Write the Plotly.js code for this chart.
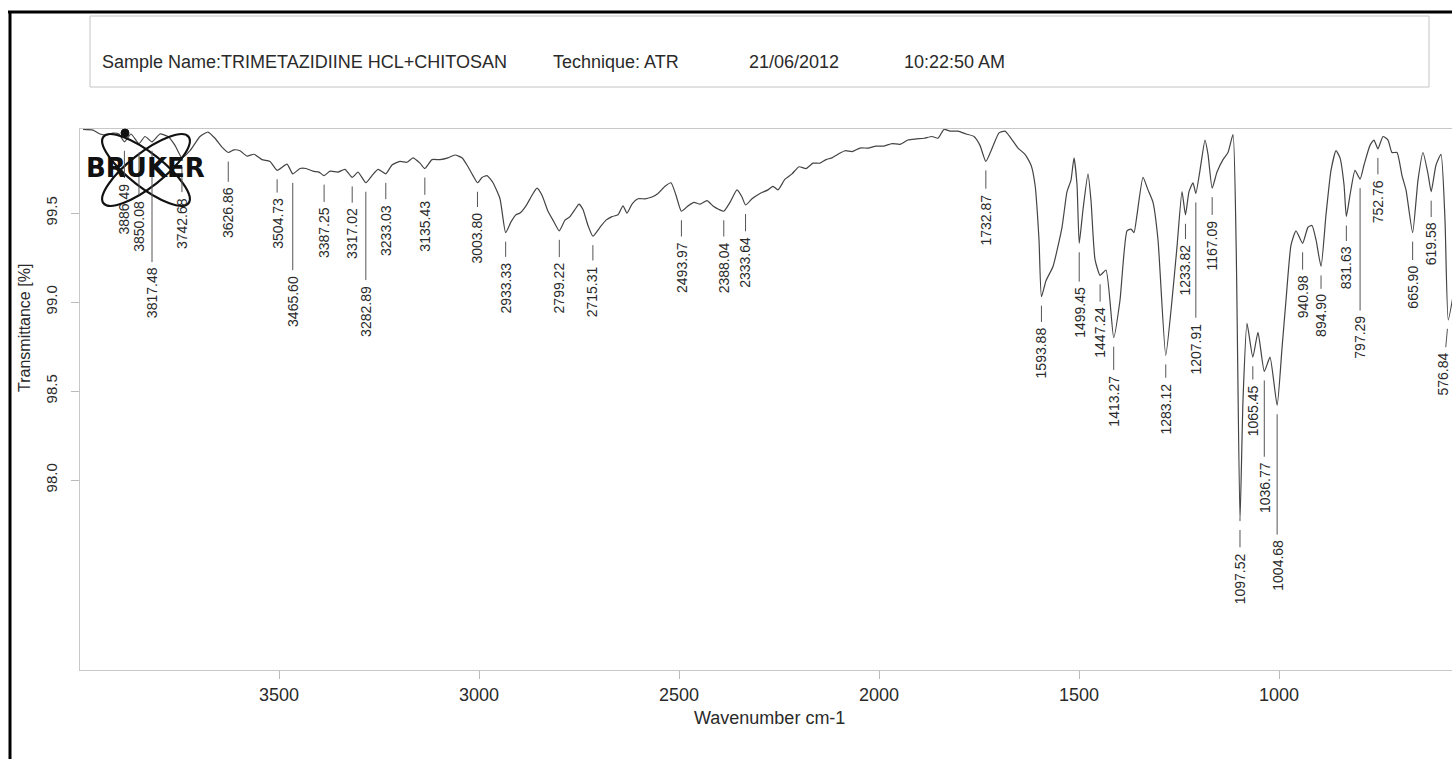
<!DOCTYPE html>
<html>
<head>
<meta charset="utf-8">
<script src="https://cdn.plot.ly/plotly-3.0.1.min.js"></script>
<style>
  html, body { margin: 0; padding: 0; background: #fff; overflow: hidden; }
  #chart { width: 1452px; height: 759px; }
</style>
</head>
<body>
<div id="chart"></div>
<script>
// ATR-FTIR spectrum, Trimetazidine HCl + chitosan

// Trace points between the labelled bands (wavenumber cm-1, transmittance %)
const traceWavenumber = [
  3990, 3965, 3947.5, 3930, 3915, 3900, 3870, 3835, 3797.5, 3777.5, 3760,
  3722.5, 3697.5, 3677.5, 3660, 3642.5, 3612.5, 3597.5, 3580, 3562.5, 3542.5, 3522.5,
  3480, 3447.5, 3432.5, 3415, 3400, 3372.5, 3352.5, 3335, 3302.5, 3267.5, 3252.5,
  3217.5, 3197.5, 3180, 3165, 3147.5, 3117.5, 3097.5, 3077.5, 3060, 3042.5, 3027.5, 3015,
  2992.5, 2980, 2965, 2947.5, 2920, 2907.5, 2897.5, 2882.5, 2867.5, 2855, 2842.5, 2827.5, 2812.5,
  2785, 2772.5, 2760, 2750, 2740, 2727.5, 2697.5, 2682.5, 2667.5, 2652.5, 2640, 2630, 2617.5,
  2602.5, 2585, 2567.5, 2552.5, 2535, 2520, 2507.5, 2477.5, 2462.5, 2447.5, 2430, 2415, 2400,
  2372.5, 2355, 2342.5, 2317.5, 2297.5, 2277.5, 2265, 2252.5, 2235, 2217.5, 2200, 2182.5, 2165,
  2147.5, 2132.5, 2117.5, 2102.5, 2085, 2067.5, 2047.5, 2027.5, 2007.5, 1987.5, 1967.5, 1947.5,
  1927.5, 1907.5, 1887.5, 1867.5, 1852.5, 1837.5, 1822.5, 1802.5, 1782.5, 1762.5, 1747.5,
  1715, 1700, 1685, 1670, 1652.5, 1635, 1620, 1610, 1600, 1582.5, 1565, 1542.5, 1530, 1520,
  1512.5, 1505, 1490, 1477.5, 1470, 1460, 1432.5, 1397.5, 1380, 1370, 1362.5, 1355, 1340,
  1327.5, 1315, 1302.5, 1267.5, 1255, 1242.5, 1225, 1215, 1197.5, 1185, 1177.5, 1155, 1140,
  1127.5, 1115, 1107, 1090, 1080, 1052.5, 1022.5, 992.5, 982.5, 970, 957.5, 927.5, 917.5, 907.5,
  882.5, 870, 857.5, 847.5, 837.5, 822.5, 810, 787.5, 772.5, 762.5, 740, 727.5, 717.5, 705,
  692.5, 682.5, 652.5, 640, 627.5, 607.5, 595, 585, 560
];
const traceTransmittance = [
  99.970, 99.966, 99.944, 99.938, 99.949, 99.944, 99.944, 99.930, 99.944, 99.930, 99.880,
  99.850, 99.930, 99.955, 99.920, 99.870, 99.855, 99.850, 99.820, 99.830, 99.800, 99.790,
  99.775, 99.750, 99.750, 99.735, 99.730, 99.735, 99.730, 99.745, 99.730, 99.710, 99.745,
  99.770, 99.790, 99.785, 99.810, 99.780, 99.800, 99.800, 99.810, 99.826, 99.810, 99.760, 99.710,
  99.700, 99.710, 99.670, 99.580, 99.450, 99.490, 99.500, 99.540, 99.600, 99.640, 99.600, 99.510, 99.450,
  99.460, 99.480, 99.520, 99.550, 99.520, 99.430, 99.420, 99.460, 99.480, 99.490, 99.540, 99.500, 99.550,
  99.580, 99.580, 99.590, 99.610, 99.650, 99.670, 99.600, 99.540, 99.560, 99.550, 99.570, 99.540, 99.520,
  99.560, 99.630, 99.590, 99.580, 99.610, 99.630, 99.650, 99.630, 99.690, 99.720, 99.760, 99.750, 99.780,
  99.780, 99.800, 99.810, 99.830, 99.850, 99.845, 99.865, 99.865, 99.876, 99.876, 99.890, 99.886,
  99.910, 99.916, 99.920, 99.930, 99.920, 99.970, 99.960, 99.960, 99.944, 99.930, 99.880,
  99.876, 99.950, 99.960, 99.920, 99.865, 99.830, 99.770, 99.660, 99.350, 99.120, 99.200, 99.420, 99.620, 99.685,
  99.810, 99.660, 99.520, 99.720, 99.570, 99.240, 99.180, 99.010, 99.400, 99.410, 99.390, 99.490, 99.700,
  99.630, 99.560, 99.350, 99.010, 99.310, 99.620, 99.620, 99.670, 99.740, 99.910, 99.830, 99.730, 99.800,
  99.840, 99.940, 99.300, 98.450, 98.880, 98.830, 98.690, 98.740, 99.010, 99.320, 99.400, 99.420, 99.430, 99.350,
  99.490, 99.740, 99.850, 99.810, 99.660, 99.600, 99.740, 99.770, 99.880, 99.910, 99.930, 99.910, 99.840, 99.840,
  99.710, 99.630, 99.685, 99.840, 99.720, 99.770, 99.830, 99.460, 99.100
];

// Picked bands (wavenumber cm-1, transmittance % at the band minimum)
const peakWavenumber = [
  3886.49, 3850.08, 3817.48, 3742.68, 3626.86, 3504.73, 3465.60, 3387.25, 3317.02, 3282.89,
  3233.03, 3135.43, 3003.80, 2933.33, 2799.22, 2715.31, 2493.97, 2388.04, 2333.64, 1732.87,
  1593.88, 1499.45, 1447.24, 1413.27, 1283.12, 1233.82, 1207.91, 1167.09, 1097.52, 1065.45,
  1036.77, 1004.68, 940.98, 894.90, 831.63, 797.29, 752.76, 665.90, 619.58, 576.84
];
const peakTransmittance = [
  99.90, 99.89, 99.90, 99.81, 99.84, 99.74, 99.72, 99.71, 99.70, 99.67,
  99.72, 99.75, 99.67, 99.39, 99.40, 99.37, 99.51, 99.51, 99.545, 99.79,
  99.03, 99.33, 99.15, 98.80, 98.70, 99.49, 99.61, 99.64, 97.77, 98.69,
  98.61, 98.42, 99.33, 99.20, 99.48, 99.69, 99.86, 99.39, 99.62, 98.90
];
const peakLabelText = peakWavenumber.map(v => v.toFixed(2));

// Axis ticks
const xTickValues = [3500, 3000, 2500, 2000, 1500, 1000];
const yTickValues = [98.0, 98.5, 99.0, 99.5];
const yTickText = ['98.0', '98.5', '99.0', '99.5'];

// Header strip
const headerText = ['Sample Name:TRIMETAZIDIINE HCL+CHITOSAN', 'Technique: ATR', '21/06/2012', '10:22:50 AM'];

// ---- layout geometry (pixels) ----
const W = 1452, H = 759;
const PLOT = { left: 80, right: 1452, top: 129, bottom: 670 };
const headerX = [100, 551, 747, 902];
// distance from band minimum down to the start of its label text
const labelDrop = [
  42, 57, 126, 40, 35, 28, 102, 32, 31, 103,
  31, 32, 30, 30, 32, 30, 31, 31, 32, 33,
  31, 44, 32, 38, 28, 30, 130, 32, 32, 28,
  91, 135, 32, 28, 30, 137, 31, 33, 31, 33
];
// sideways nudge of a label (keeps the last one inside the page edge)
const labelNudge = peakWavenumber.map((w, i) => i === peakWavenumber.length - 1 ? -5 : 0);

const px = x => (x - PLOT.left) / (PLOT.right - PLOT.left);
const py = y => (PLOT.bottom - y) / (PLOT.bottom - PLOT.top);

// merge trace points with band minima, high to low wavenumber
const pts = traceWavenumber.map((w, i) => [w, traceTransmittance[i]])
  .concat(peakWavenumber.map((w, i) => [w, peakTransmittance[i]]))
  .sort((a, b) => b[0] - a[0]);

const FONT = 'Liberation Sans, Arial, sans-serif';
const TEXT = '#2a2a2a';

const annotations = [];

// band labels: rotated text with a leader line up to the band
const labelSize = 14;
peakWavenumber.forEach((wn, i) => {
  const t = peakLabelText[i];
  const len = labelSize * ((t.length - 1) * 0.556 + 0.278);
  annotations.push({
    x: wn, y: peakTransmittance[i], xref: 'x', yref: 'y',
    text: t, textangle: -90,
    font: { family: FONT, size: labelSize, color: TEXT },
    showarrow: true, arrowhead: 0, arrowwidth: 1, arrowcolor: '#555',
    ax: labelNudge[i], ay: labelDrop[i] + len / 2, axref: 'pixel', ayref: 'pixel',
    standoff: 9, borderpad: 5
  });
});

// header texts
headerText.forEach((t, i) => {
  annotations.push({
    x: px(headerX[i]), y: py(62), xref: 'paper', yref: 'paper',
    xanchor: 'left', yanchor: 'middle', showarrow: false,
    text: t, font: { family: FONT, size: 18, color: TEXT }
  });
});

// axis titles
annotations.push({
  x: px(769), y: py(718), xref: 'paper', yref: 'paper', showarrow: false,
  xanchor: 'center', yanchor: 'middle',
  text: 'Wavenumber cm-1', font: { family: FONT, size: 18, color: TEXT }
});
annotations.push({
  x: px(24), y: py(328), xref: 'paper', yref: 'paper', showarrow: false,
  xanchor: 'center', yanchor: 'middle', textangle: -90,
  text: 'Transmittance [%]', font: { family: FONT, size: 16, color: TEXT }
});

// maker logo word
annotations.push({
  x: px(145), y: py(168), xref: 'paper', yref: 'paper', showarrow: false,
  xanchor: 'center', yanchor: 'middle',
  text: '<b>BRUKER</b>', font: { family: 'DejaVu Sans, sans-serif', size: 26, color: '#111' }
});

// rotated ellipse as a bezier path in paper coordinates
function ellipsePath(cx, cy, a, b, deg) {
  const th = deg * Math.PI / 180, k = 0.5523;
  const u = [Math.cos(th), Math.sin(th)], v = [-Math.sin(th), Math.cos(th)];
  const P = t => [cx + a * Math.cos(t) * u[0] + b * Math.sin(t) * v[0],
                  cy + a * Math.cos(t) * u[1] + b * Math.sin(t) * v[1]];
  const D = t => [-a * Math.sin(t) * u[0] + b * Math.cos(t) * v[0],
                  -a * Math.sin(t) * u[1] + b * Math.cos(t) * v[1]];
  const f = p => px(p[0]).toFixed(5) + ',' + py(p[1]).toFixed(5);
  let s = 'M' + f(P(0));
  for (let q = 0; q < 4; q++) {
    const t0 = q * Math.PI / 2, t1 = (q + 1) * Math.PI / 2;
    const s0 = P(t0), e = P(t1), d0 = D(t0), d1 = D(t1);
    s += ' C' + f([s0[0] + k * d0[0], s0[1] + k * d0[1]]) + ' ' +
         f([e[0] - k * d1[0], e[1] - k * d1[1]]) + ' ' + f(e);
  }
  return s + ' Z';
}

const shapes = [
  // page frame
  { type: 'line', xref: 'paper', yref: 'paper', x0: px(8), x1: px(1460), y0: py(12), y1: py(12),
    line: { color: '#000', width: 3 } },
  { type: 'line', xref: 'paper', yref: 'paper', x0: px(10), x1: px(10), y0: py(11), y1: py(770),
    line: { color: '#000', width: 3 } },
  // header box
  { type: 'rect', xref: 'paper', yref: 'paper', x0: px(90), x1: px(1429), y0: py(87), y1: py(16),
    line: { color: '#c4c4c4', width: 1 } },
  // logo orbits and nucleus
  { type: 'path', xref: 'paper', yref: 'paper', path: ellipsePath(146, 170, 54, 17, 38),
    line: { color: '#111', width: 2.2 } },
  { type: 'path', xref: 'paper', yref: 'paper', path: ellipsePath(146, 170, 54, 17, -38),
    line: { color: '#111', width: 2.2 } },
  { type: 'circle', xref: 'paper', yref: 'paper', x0: px(121), x1: px(129), y0: py(137), y1: py(129),
    fillcolor: '#111', line: { color: '#111', width: 1 } }
];

const trace = {
  x: pts.map(p => p[0]), y: pts.map(p => p[1]),
  type: 'scatter', mode: 'lines', hoverinfo: 'skip',
  line: { color: '#444', width: 1.2, shape: 'spline', smoothing: 0.5 }
};

const layout = {
  width: W, height: H,
  margin: { l: PLOT.left, r: W - PLOT.right, t: PLOT.top, b: H - PLOT.bottom, pad: 0 },
  paper_bgcolor: '#fff', plot_bgcolor: '#fff',
  showlegend: false,
  font: { family: FONT, color: TEXT },
  xaxis: {
    range: [3997.5, 567.5], tickvals: xTickValues, ticktext: xTickValues.map(String),
    ticks: 'outside', ticklen: 8, tickcolor: '#bbb', tickwidth: 1,
    showline: true, linecolor: '#c8c8c8', linewidth: 1, mirror: true,
    showgrid: false, zeroline: false,
    tickfont: { family: FONT, size: 18, color: TEXT }
  },
  yaxis: {
    range: [96.933, 99.972], tickvals: yTickValues, ticktext: yTickText, tickangle: -90,
    ticks: 'outside', ticklen: 8, tickcolor: '#bbb', tickwidth: 1,
    showline: true, linecolor: '#c8c8c8', linewidth: 1,
    showgrid: false, zeroline: false, ticklabelstandoff: 8,
    tickfont: { family: FONT, size: 15, color: TEXT }
  },
  annotations: annotations,
  shapes: shapes
};

Plotly.newPlot('chart', [trace], layout, { staticPlot: true, displayModeBar: false });
</script>
</body>
</html>
